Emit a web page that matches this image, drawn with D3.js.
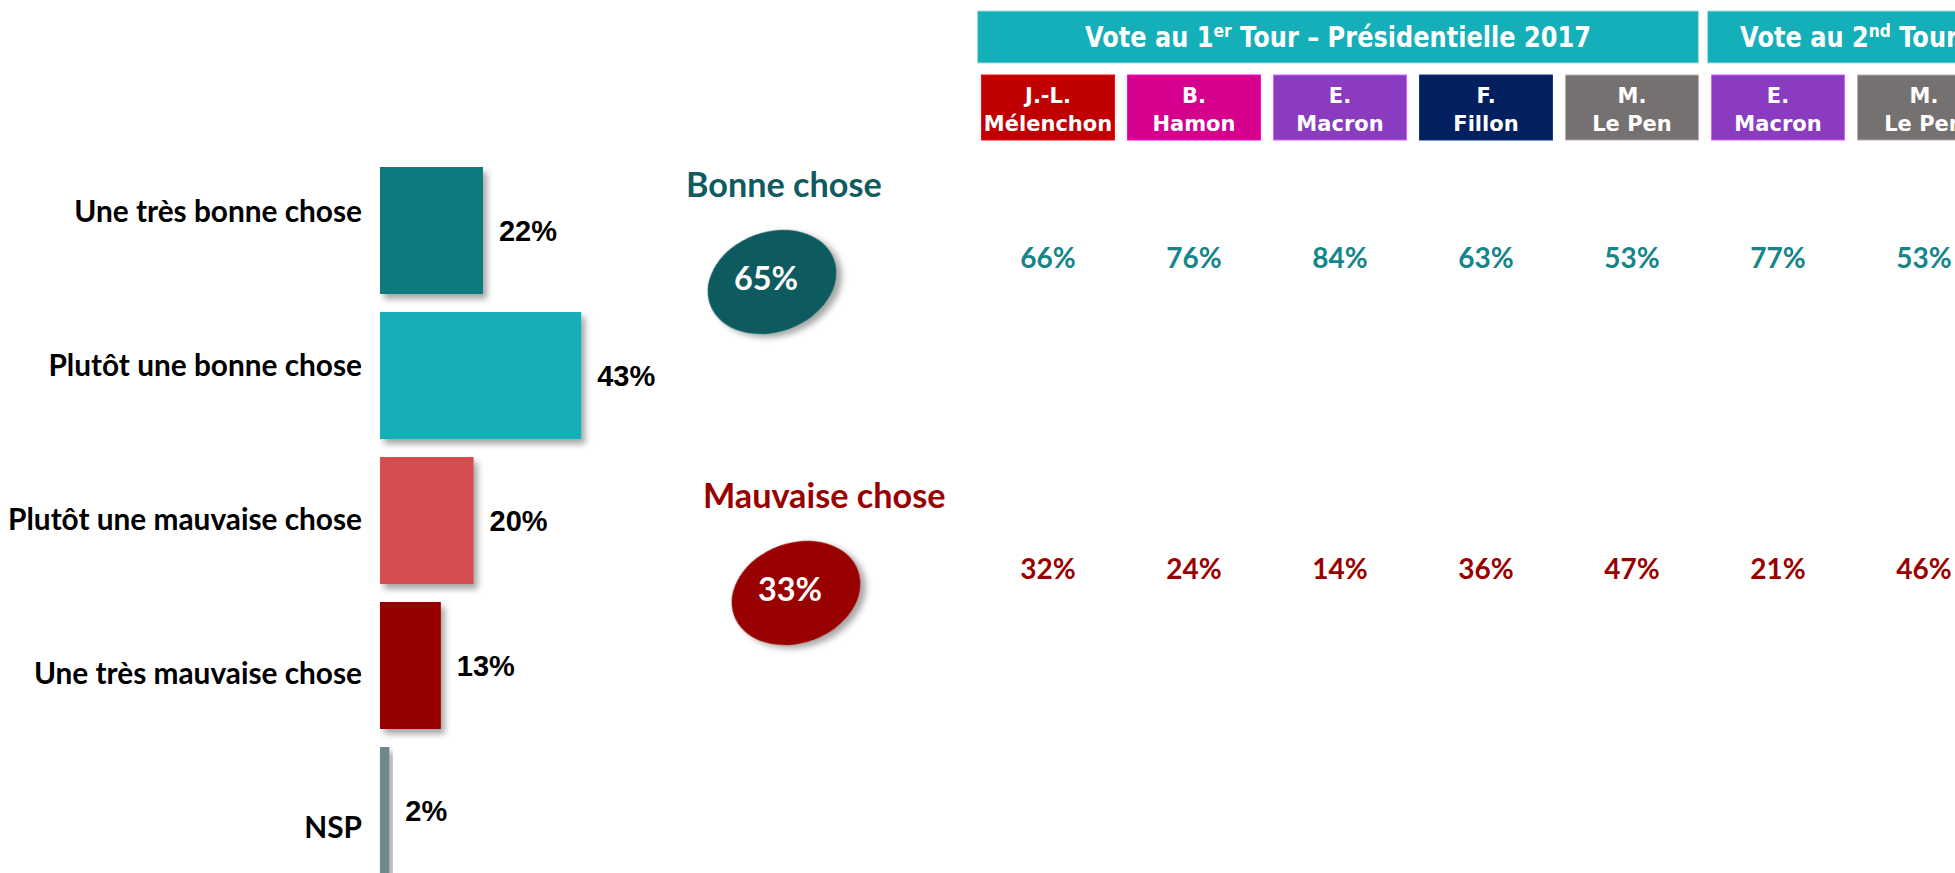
<!DOCTYPE html>
<html><head><meta charset="utf-8">
<script src="https://cdn.jsdelivr.net/npm/d3@7"></script>
<style>html,body{margin:0;padding:0;background:#fff;overflow:hidden}</style>
</head><body><svg id="chart" width="1955" height="873"></svg>
<script>
// ---- data ----
const categories = ["Une très bonne chose","Plutôt une bonne chose","Plutôt une mauvaise chose","Une très mauvaise chose","NSP"];
const values = [22,43,20,13,2];
const summaryLabels = ["Bonne chose","Mauvaise chose"];
const summaryValues = [65,33];
const candidateFirst = ["J.-L.","B.","E.","F.","M.","E.","M."];
const candidateLast = ["Mélenchon","Hamon","Macron","Fillon","Le Pen","Macron","Le Pen"];
const bonneByCandidate = [66,76,84,63,53,77,53];
const mauvaiseByCandidate = [32,24,14,36,47,21,46];
const roundPrefix = ["Vote au 1","Vote au 2"];
const roundSup = ["er","nd"];
const roundSuffix = [" Tour – Présidentielle 2017"," Tour"];
const roundFirstCol = [0,5];
const roundLastCol = [4,6];

// ---- styles ----
const barColors = ["#107a80","#13afb8","#d64d50","#960000","#6e888b"];
const candColors = ["#c00000","#d6008f","#8a3bbf","#02205f","#767171","#8a3bbf","#767171"];
const teal = "#15858a", red = "#990000";

const svg = d3.select("#chart");
const defs = svg.append("defs");
const f = defs.append("filter").attr("id","shadow").attr("x","-20%").attr("y","-20%").attr("width","150%").attr("height","150%");
f.append("feDropShadow").attr("dx",4).attr("dy",5).attr("stdDeviation",3).attr("flood-color","#000").attr("flood-opacity",0.35);

// ---- left bar chart ----
const x = d3.scaleLinear().domain([0,100]).range([380,848]);
const y = d3.scaleBand().domain(categories).range([167,874]).paddingInner(18/145).paddingOuter(0);
const yLabel = d3.scalePoint().domain(categories).range([222,838]);
const barData = categories.map((c,i)=>({c, v:values[i], color:barColors[i]}));

svg.append("g").selectAll("rect").data(barData).join("rect")
  .attr("x", x(0)).attr("y", d=>y(d.c))
  .attr("width", d=>x(d.v)-x(0)).attr("height", y.bandwidth())
  .attr("fill", d=>d.color).attr("filter","url(#shadow)");

svg.append("g").selectAll("text").data(barData).join("text")
  .attr("x", 362).attr("y", d=>yLabel(d.c))
  .attr("text-anchor","end")
  .style("font-family","Lato, 'Open Sans', sans-serif").style("font-weight","bold").style("font-size","29.8px")
  .attr("fill","#000").text(d=>d.c);

svg.append("g").selectAll("text").data(barData).join("text")
  .attr("x", d=>x(d.v)+16).attr("y", d=>y(d.c)+y.bandwidth()/2+10.4)
  .style("font-family","'Liberation Sans', Arial, sans-serif").style("font-weight","bold").style("font-size","29px")
  .attr("fill","#000").text(d=>d.v+"%");

// ---- summary column ----
const rowY = d3.scalePoint().domain(summaryLabels).range([268,579]);
const sumColors = ["#0f5b5f", red];
const ellColors = ["#0e5a5e", "#990000"];
const sumG = svg.append("g").selectAll("g").data(summaryLabels).join("g");
sumG.append("text")
  .attr("x",(d,i)=>686+17*i).attr("y",d=>rowY(d)-71.5)
  .style("font-family","Lato, sans-serif").style("font-weight","bold").style("font-size","34.2px")
  .attr("fill",(d,i)=>sumColors[i]).text(d=>d);
sumG.append("ellipse")
  .attr("cx",0).attr("cy",0).attr("rx",66).attr("ry",50)
  .attr("transform",(d,i)=>`translate(${772+24*i},${rowY(d)+14}) rotate(-20)`)
  .attr("fill",(d,i)=>ellColors[i]).attr("filter","url(#shadow)");
sumG.append("text")
  .attr("x",(d,i)=>772+24*i-6).attr("y",d=>rowY(d)+22)
  .attr("text-anchor","middle")
  .style("font-family","Lato, sans-serif").style("font-weight","bold").style("font-size","32.4px")
  .attr("fill","#fff").text((d,i)=>summaryValues[i]+"%");

// ---- candidate columns ----
const col = d3.scaleBand().domain(d3.range(7)).range([975,975+146*7]).paddingInner(0.09).paddingOuter(0.045);
const candData = candidateLast.map((l,i)=>({i, first:candidateFirst[i], last:l, color:candColors[i], b:bonneByCandidate[i], m:mauvaiseByCandidate[i]}));

// round headers
const rounds = roundPrefix.map((p,i)=>({p, sup:roundSup[i], suf:roundSuffix[i], a:roundFirstCol[i], b:roundLastCol[i]}));
const rg = svg.append("g").selectAll("g").data(rounds).join("g");
rg.append("rect").attr("x",d=>col(d.a)-4).attr("y",11)
  .attr("width",d=>col(d.b)+col.bandwidth()-col(d.a)+4).attr("height",52)
  .attr("fill","#14afb8").attr("stroke","#9fdde1").attr("stroke-width",1);
const rt = rg.append("text")
  .attr("transform",d=>`translate(${(col(d.a)-4+col(d.b)+col.bandwidth())/2},47) scale(0.86,1)`)
  .attr("text-anchor","middle")
  .style("font-family","'DejaVu Sans', Verdana, sans-serif").style("font-weight","bold").style("font-size","28px")
  .attr("fill","#fff");
rt.append("tspan").text(d=>d.p);
rt.append("tspan").attr("dy",-10).style("font-size","18px").text(d=>d.sup);
rt.append("tspan").attr("dy",10).text(d=>d.suf);

// candidate boxes
const cg = svg.append("g").selectAll("g").data(candData).join("g");
cg.append("rect").attr("x",d=>col(d.i)).attr("y",75).attr("width",col.bandwidth()).attr("height",65)
  .attr("fill",d=>d.color).attr("stroke",d=>d3.color(d.color).brighter(1.2)).attr("stroke-width",1);
cg.append("text").attr("x",d=>col(d.i)+col.bandwidth()/2).attr("y",103)
  .attr("text-anchor","middle")
  .style("font-family","'DejaVu Sans', Verdana, sans-serif").style("font-weight","bold").style("font-size","21px")
  .attr("fill","#fff").text(d=>d.first);
cg.append("text").attr("x",d=>col(d.i)+col.bandwidth()/2).attr("y",131)
  .attr("text-anchor","middle")
  .style("font-family","'DejaVu Sans', Verdana, sans-serif").style("font-weight","bold").style("font-size","21px")
  .attr("fill","#fff").text(d=>d.last);

// candidate values
cg.append("text").attr("x",d=>col(d.i)+col.bandwidth()/2).attr("y",rowY(summaryLabels[0]))
  .attr("text-anchor","middle")
  .style("font-family","Lato, sans-serif").style("font-weight","bold").style("font-size","28px")
  .attr("fill",teal).text(d=>d.b+"%");
cg.append("text").attr("x",d=>col(d.i)+col.bandwidth()/2).attr("y",rowY(summaryLabels[1]))
  .attr("text-anchor","middle")
  .style("font-family","Lato, sans-serif").style("font-weight","bold").style("font-size","28px")
  .attr("fill",red).text(d=>d.m+"%");
</script></body></html>
